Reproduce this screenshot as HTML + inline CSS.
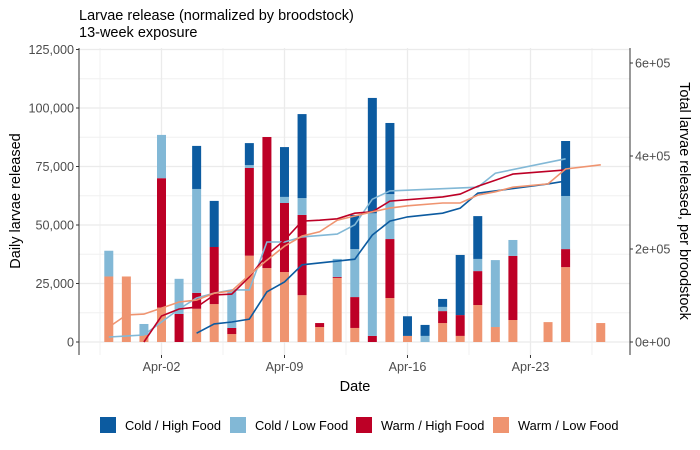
<!DOCTYPE html>
<html><head><meta charset="utf-8"><style>
body{margin:0;background:#fff;}
svg{display:block;font-family:"Liberation Sans",Arial,sans-serif;}
</style></head><body>
<svg id="chart" width="700" height="450"></svg>
<script>
const days = ["Mar-30","Mar-31","Apr-01","Apr-02","Apr-03","Apr-04","Apr-05","Apr-06","Apr-07","Apr-08","Apr-09","Apr-10","Apr-11","Apr-12","Apr-13","Apr-14","Apr-15","Apr-16","Apr-17","Apr-18","Apr-19","Apr-20","Apr-21","Apr-22","Apr-23","Apr-24","Apr-25","Apr-26","Apr-27"];
const warmLow  = [28000,28000,3000,14700,0,14200,16200,3400,36900,31600,29900,20000,6400,27400,6000,0,18800,2600,0,8100,2600,15800,6400,9400,0,8500,32000,0,8100];
const warmHigh = [0,0,0,55300,12000,6800,24400,2600,37500,56000,29500,34300,1700,400,13200,2600,25200,0,0,5100,8900,14500,0,27400,0,0,7700,0,0];
const coldLow  = [11000,0,4700,18500,15000,44400,0,16200,1200,0,2600,7200,0,7700,20500,52400,19200,0,2600,1800,0,5200,28600,6800,0,0,22700,0,0];
const coldHigh = [0,0,0,0,0,18400,19700,0,9400,0,21300,35900,0,0,14600,49300,30400,8400,4700,3400,25700,18300,0,0,0,0,23500,0,0];
const leftTicks = [0,25000,50000,75000,100000,125000];
const leftTickLabels = ["0","25,000","50,000","75,000","100,000","125,000"];
const rightTicks = [0,200000,400000,600000];
const rightTickLabels = ["0e+00","2e+05","4e+05","6e+05"];
const xTickDays = [3,10,17,24];
const xTickLabels = ["Apr-02","Apr-09","Apr-16","Apr-23"];
const cumColdLowDays = [0,2,4,5,6,7,8,9,10,11,13,14,15,16,21,22,26];
const cumColdLowVals = [10800,15000,71000,94600,105000,112000,112000,215000,215000,226000,232000,252000,307000,325000,333000,363000,394000];
const cumColdHighDays = [5,6,7,8,9,10,11,14,15,16,17,19,20,21,22,25,26];
const cumColdHighVals = [19000,39000,43000,49000,108000,129000,166000,178000,230000,260000,269000,277000,288000,320000,325000,340000,346000];
const cumWarmHighDays = [2,3,4,5,6,7,8,9,10,11,12,13,14,15,16,19,20,21,22,23,26];
const cumWarmHighVals = [0,56000,71000,75000,101000,103000,140000,187000,219000,260000,262000,265000,277000,280000,303000,312000,318000,335000,348000,361000,370000];
const cumWarmLowDays = [0,1,2,3,4,5,6,7,8,9,10,11,12,13,14,15,16,17,19,20,21,22,23,25,26,28];
const cumWarmLowVals = [32000,58000,60000,73000,86000,90000,105000,110000,144000,176000,206000,228000,237000,262000,271000,280000,288000,293000,299000,299000,316000,323000,333000,340000,372000,381000];

const C = {ch:"#0c5ba0",cl:"#82b8d6",wh:"#bd0026",wl:"#ef9470"};
const P = {l:79,r:630,t:48,b:355};
const xs = d => 161.5 + 17.57*(d-3);
const yL = v => 342 - v*0.002340;
const yR = v => 342 - v*0.000465;
const NS="http://www.w3.org/2000/svg";
const svg=document.getElementById('chart');
function el(tag,attrs,parent){const e=document.createElementNS(NS,tag);for(const k in attrs)e.setAttribute(k,attrs[k]);(parent||svg).appendChild(e);return e;}

const bg=el('rect',{x:P.l,y:P.t,width:P.r-P.l,height:P.b-P.t,fill:"#fff"});


for(let v=12500;v<=125000;v+=25000){const g=el('line',{x1:P.l,x2:P.r,y1:yL(v),y2:yL(v),stroke:"#f0f0f0","stroke-width":1});}
for(let d=-0.5;d<=31;d+=7){const x=xs(d);if(x>P.l&&x<P.r){const g=el('line',{x1:x,x2:x,y1:P.t,y2:P.b,stroke:"#f0f0f0","stroke-width":1});}}
leftTicks.forEach(v=>{const g=el('line',{x1:P.l,x2:P.r,y1:yL(v),y2:yL(v),stroke:"#ebebeb","stroke-width":1.3});});
xTickDays.forEach(d=>{const g=el('line',{x1:xs(d),x2:xs(d),y1:P.t,y2:P.b,stroke:"#ebebeb","stroke-width":1.3});});

const series=[[warmLow,C.wl,'warm-low'],[warmHigh,C.wh,'warm-high'],[coldLow,C.cl,'cold-low'],[coldHigh,C.ch,'cold-high']];
days.forEach((dname,i)=>{let base=0;series.forEach(([arr,col,nm])=>{const v=arr[i];if(v>0){const r=el('rect',{x:xs(i)-4.5,width:9,y:yL(base+v),height:yL(base)-yL(base+v),fill:col});base+=v;}});});

[[cumColdLowDays,cumColdLowVals,C.cl,'cold-low'],[cumColdHighDays,cumColdHighVals,C.ch,'cold-high'],[cumWarmHighDays,cumWarmHighVals,C.wh,'warm-high'],[cumWarmLowDays,cumWarmLowVals,C.wl,'warm-low']].forEach(([ds,vs,col,nm])=>{
 const pts=ds.map((d,i)=>xs(d).toFixed(1)+','+yR(vs[i]).toFixed(1)).join(' ');
 const p=el('polyline',{points:pts,fill:"none",stroke:col,"stroke-width":1.6});
 
 
});

const ax=el('path',{d:`M${P.l},${P.t}V${P.b}M${P.r},${P.t}V${P.b}`,stroke:"#333","stroke-width":1,fill:"none"});

leftTicks.forEach((v,i)=>{el('line',{x1:P.l-3,x2:P.l,y1:yL(v),y2:yL(v),stroke:"#333"});const t=el('text',{x:P.l-5,y:yL(v)+4.5,"text-anchor":"end","font-size":"12.6",fill:"#4d4d4d"});t.textContent=leftTickLabels[i];});
rightTicks.forEach((v,i)=>{el('line',{x1:P.r,x2:P.r+3,y1:yR(v),y2:yR(v),stroke:"#333"});const t=el('text',{x:P.r+5,y:yR(v)+4.5,"font-size":"12.6",fill:"#4d4d4d"});t.textContent=rightTickLabels[i];});
xTickDays.forEach((d,i)=>{el('line',{x1:xs(d),x2:xs(d),y1:P.b,y2:P.b+3,stroke:"#333"});const t=el('text',{x:xs(d),y:P.b+16,"text-anchor":"middle","font-size":"12.6",fill:"#4d4d4d"});t.textContent=xTickLabels[i];});
</script>
<script>
(function(){
const NS="http://www.w3.org/2000/svg";const svg=document.getElementById('chart');
function txt(s,attrs,name){const t=document.createElementNS(NS,'text');for(const k in attrs)t.setAttribute(k,attrs[k]);t.textContent=s;svg.appendChild(t);return t;}
txt("Larvae release (normalized by broodstock)",{x:79,y:20,"font-size":"14.5",fill:"#000"},'chart-title');
txt("13-week exposure",{x:79,y:37,"font-size":"14.5",fill:"#000"},'chart-subtitle');
txt("Date",{x:355,y:391,"font-size":"14.5","text-anchor":"middle"},'x-axis-title');
txt("Daily larvae released",{x:0,y:0,"font-size":"14.5","text-anchor":"middle",transform:"translate(20,201) rotate(-90)"},'y-axis-title');
txt("Total larvae released, per broodstock",{x:0,y:0,"font-size":"14.5","text-anchor":"middle",transform:"translate(680,201) rotate(90)"},'y2-axis-title');
const items=[["Cold / High Food","#0c5ba0",100],["Cold / Low Food","#82b8d6",230],["Warm / High Food","#bd0026",356],["Warm / Low Food","#ef9470",493]];
items.forEach(([l,c,x])=>{const r=document.createElementNS(NS,'rect');r.setAttribute('x',x);r.setAttribute('y',417);r.setAttribute('width',16);r.setAttribute('height',16);r.setAttribute('fill',c);svg.appendChild(r);
txt(l,{x:x+25,y:430,"font-size":"12.8",fill:"#000"},'legend-label');});
})();
</script>
</body></html>
